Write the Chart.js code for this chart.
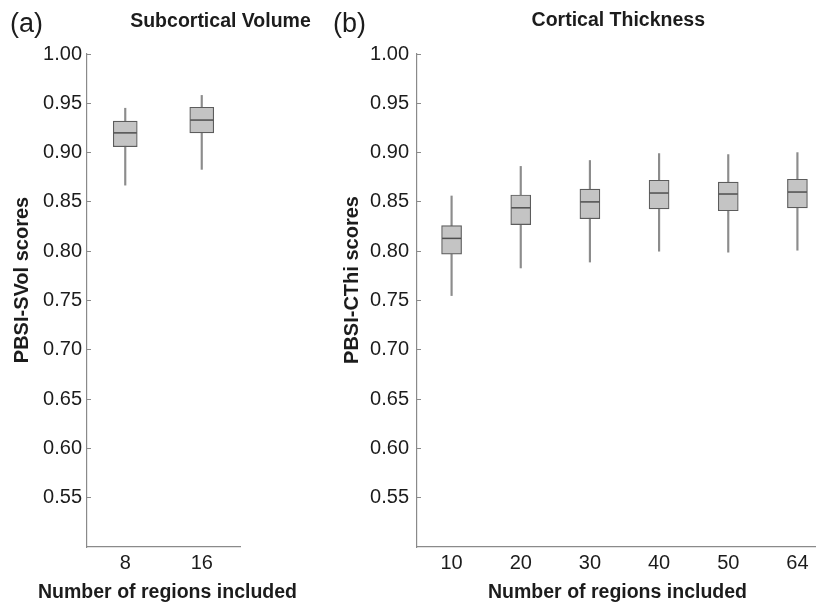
<!DOCTYPE html>
<html><head><meta charset="utf-8">
<script src="https://cdn.jsdelivr.net/npm/chart.js@4"></script>
<style>
html,body{margin:0;padding:0;background:#fff;overflow:hidden;width:816px;height:604px;position:relative;}
#ca{position:absolute;left:0;top:0;}
#cb{position:absolute;left:320px;top:0;}
</style></head><body>
<canvas id="ca" width="320" height="604"></canvas>
<canvas id="cb" width="530" height="604"></canvas>
<script>
// ---- data ----
const svolCategories = ['8', '16'];
const svolMin    = [0.867, 0.883];
const svolQ1     = [0.906, 0.920];
const svolMedian = [0.920, 0.933];
const svolQ3     = [0.932, 0.946];
const svolMax    = [0.945, 0.958];

const cthiCategories = ['10', '20', '30', '40', '50', '64'];
const cthiMin    = [0.755, 0.783, 0.789, 0.800, 0.799, 0.801];
const cthiQ1     = [0.797, 0.827, 0.833, 0.843, 0.841, 0.844];
const cthiMedian = [0.813, 0.844, 0.850, 0.859, 0.858, 0.860];
const cthiQ3     = [0.826, 0.857, 0.863, 0.872, 0.870, 0.873];
const cthiMax    = [0.856, 0.886, 0.892, 0.899, 0.898, 0.900];

const yTickValues = [0.55, 0.60, 0.65, 0.70, 0.75, 0.80, 0.85, 0.90, 0.95, 1.00];
const xTitle = 'Number of regions included';

// ---- styling ----
const FONT = '"Liberation Sans", Arial, Helvetica, sans-serif';
const TEXT = '#1c1c1c';
const AXIS = '#8a8a8a';
Chart.defaults.font.family = FONT;
Chart.defaults.color = TEXT;

const textPlugin = {
  id: 'panelText',
  afterDraw(chart, args, o) {
    const ctx = chart.ctx;
    ctx.save();
    ctx.fillStyle = TEXT;
    ctx.textBaseline = 'middle';
    ctx.textAlign = 'left';
    ctx.font = '27px ' + FONT;
    ctx.fillText(o.letter, o.letterX, o.letterY);
    ctx.textAlign = 'center';
    ctx.font = 'bold 19.5px ' + FONT;
    ctx.fillText(o.title, o.titleX, o.titleY);
    ctx.font = 'bold 19.5px ' + FONT;
    ctx.fillText(xTitle, o.xTitleX, o.xTitleY);
    ctx.translate(o.yTitleX, o.yTitleY);
    ctx.rotate(-Math.PI / 2);
    ctx.font = 'bold 20px ' + FONT;
    ctx.fillText(o.yTitle, 0, 0);
    ctx.restore();
  }
};

function boxDatasets(mn, q1, med, q3, mx, boxW) {
  return [
    { type: 'line', data: med, showLine: false, pointStyle: 'line',
      pointRadius: boxW / 2 - 0.5, pointHoverRadius: boxW / 2 - 0.5,
      borderColor: '#4e4e4e', pointBorderWidth: 1.5, order: 0 },
    { type: 'bar', data: q1.map((v, i) => [v, q3[i]]),
      backgroundColor: '#c4c4c4', borderColor: '#5c5c5c', borderWidth: 1.2,
      borderSkipped: false, barThickness: boxW, grouped: false, order: 1 },
    { type: 'bar', data: mn.map((v, i) => [v, mx[i]]),
      backgroundColor: '#8c8c8c', borderWidth: 0,
      barThickness: 1.5, grouped: false, order: 2 }
  ];
}

function makeChart(id, cats, ds, yWidth, yPad, padRight, text) {
  return new Chart(document.getElementById(id), {
    type: 'bar',
    data: { labels: cats, datasets: ds },
    options: {
      responsive: false, maintainAspectRatio: false, animation: false, devicePixelRatio: 1,
      layout: { padding: { top: 54, left: 0, right: padRight, bottom: 0 } },
      plugins: { legend: { display: false }, tooltip: { enabled: false }, panelText: text },
      scales: {
        x: {
          type: 'category', offset: true,
          grid: { display: false, drawTicks: false },
          border: { display: true, color: AXIS, width: 1.2 },
          ticks: { font: { size: 20 }, color: TEXT, padding: 4, maxRotation: 0 },
          afterFit(s) { s.height = 57; }
        },
        y: {
          min: 0.5, max: 1.0,
          afterBuildTicks(s) { s.ticks = yTickValues.map(v => ({ value: v })); },
          grid: { display: true, drawOnChartArea: false, drawTicks: true, tickLength: -4, color: AXIS, lineWidth: 1 },
          border: { display: true, color: AXIS, width: 1.2 },
          ticks: { font: { size: 20 }, color: TEXT, padding: yPad, callback: v => Number(v).toFixed(2) },
          afterFit(s) { s.width = yWidth; }
        }
      }
    },
    plugins: [textPlugin]
  });
}

makeChart('ca', svolCategories,
  boxDatasets(svolMin, svolQ1, svolMedian, svolQ3, svolMax, 24),
  87, 9, 80,
  { letter: '(a)', letterX: 10, letterY: 25, title: 'Subcortical Volume', titleX: 220.5, titleY: 22,
    xTitleX: 167.5, xTitleY: 592.5,
    yTitle: 'PBSI-SVol scores', yTitleX: 22.5, yTitleY: 280 });

makeChart('cb', cthiCategories,
  boxDatasets(cthiMin, cthiQ1, cthiMedian, cthiQ3, cthiMax, 20),
  97, 12, 18,
  { letter: '(b)', letterX: 13, letterY: 25, title: 'Cortical Thickness', titleX: 298.3, titleY: 21,
    xTitleX: 297.5, xTitleY: 592.5,
    yTitle: 'PBSI-CThi scores', yTitleX: 32.5, yTitleY: 280 });
</script>
</body></html>
